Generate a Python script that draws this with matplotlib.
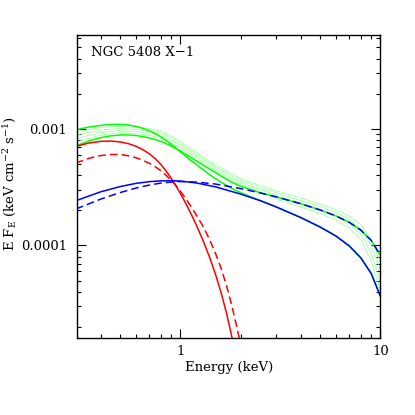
import numpy as np
import matplotlib
matplotlib.use("Agg")
import matplotlib.pyplot as plt
from matplotlib.ticker import FixedLocator, FixedFormatter, LogLocator, NullFormatter

plt.rcParams['font.family'] = ['DejaVu Serif']
plt.rcParams['mathtext.fontset'] = 'dejavuserif'
plt.rcParams['mathtext.default'] = 'regular'

# === Model components, E F_E in units of 1e-4 keV cm^-2 s^-1 ===
# Comptonised component (blue)
e_blue = [0.3, 0.4, 0.5, 0.6, 0.7, 0.8, 0.9, 1.0, 1.2, 1.5, 2.0, 2.5, 3.0, 4.0, 5.0, 6.0, 7.0, 8.0, 9.0, 10.0]
blue_solid = [2.415, 2.884, 3.196, 3.405, 3.521, 3.577, 3.591, 3.563, 3.432, 3.177,
              2.757, 2.425, 2.146, 1.734, 1.438, 1.204, 0.9882, 0.7799, 0.5744, 0.3684]
blue_dash = [2.051, 2.497, 2.839, 3.104, 3.293, 3.425, 3.494, 3.528, 3.494, 3.358,
             3.073, 2.823, 2.614, 2.277, 2.015, 1.790, 1.577, 1.350, 1.104, 0.8258]

# Disc component (red)
e_red = [0.3, 0.35, 0.4, 0.45, 0.5, 0.55, 0.6, 0.65, 0.7, 0.75, 0.8, 0.85, 0.9, 0.95,
         1.0, 1.05, 1.1, 1.15, 1.2, 1.3, 1.4, 1.5, 1.6, 1.7, 1.8, 1.9, 2.0]
red_solid = [7.065, 7.557, 7.798, 7.845, 7.706, 7.453, 7.079, 6.608, 6.093, 5.533,
             4.935, 4.323, 3.765, 3.247, 2.784, 2.391, 2.047, 1.758, 1.504, 1.095,
             0.7923, 0.5622, 0.3917, 0.2634, 0.1707, 0.1106, 0.07]
red_dash = [5.083, 5.588, 5.893, 6.022, 6.010, 5.870, 5.643, 5.359, 5.053, 4.716,
            4.357, 3.979, 3.613, 3.254, 2.913, 2.603, 2.312, 2.059, 1.826, 1.452,
            1.123, 0.8522, 0.6339, 0.4533, 0.3147, 0.2121, 0.1429]

# Best-fit total models (bright green)
e_tot = [0.3, 0.35, 0.4, 0.45, 0.5, 0.55, 0.6, 0.65, 0.7, 0.75, 0.8, 0.85, 0.9, 0.95,
         1.0, 1.1, 1.2, 1.3, 1.4, 1.5, 1.6, 1.8, 2.0, 2.5, 3.0, 4.0, 5.0, 6.0, 7.0, 8.0, 9.0, 10.0]
tot_a = [9.8, 10.35, 10.68, 10.90, 10.90, 10.76, 10.48, 10.08, 9.61, 9.09, 8.51, 7.91,
         7.36, 6.83, 6.35, 5.55, 4.94, 4.45, 4.05, 3.74, 3.48, 3.09, 2.83, 2.43,
         2.146, 1.734, 1.438, 1.204, 0.9882, 0.7799, 0.5744, 0.3684]
tot_b = [7.13, 7.88, 8.39, 8.70, 8.85, 8.85, 8.75, 8.56, 8.35, 8.08, 7.78, 7.44,
         7.11, 6.76, 6.44, 5.83, 5.32, 4.89, 4.51, 4.21, 3.93, 3.49, 3.22, 2.83,
         2.614, 2.277, 2.015, 1.790, 1.577, 1.350, 1.104, 0.8258]

# Other acceptable fits (light green)
e_alt = [0.3, 0.4, 0.5, 0.6, 0.7, 0.8, 0.9, 1.0, 1.2, 1.5, 2.0, 2.5, 3.0, 4.0, 5.0, 6.0, 7.0, 8.0, 9.0, 10.0]
alt_1 = [9.370, 10.24, 10.49, 10.24, 10.04, 9.556, 8.658, 7.770, 6.313, 4.888,
         3.743, 3.260, 2.953, 2.548, 2.263, 2.031, 1.786, 1.495, 1.123, 0.7250]
alt_2 = [8.831, 9.747, 10.04, 9.843, 9.613, 9.132, 8.274, 7.468, 6.071, 4.697,
         3.598, 3.134, 2.839, 2.425, 2.154, 1.914, 1.667, 1.369, 0.9882, 0.6152]
alt_3 = [8.242, 9.278, 9.651, 9.463, 9.186, 8.710, 7.923, 7.179, 5.836, 4.515,
         3.459, 3.013, 2.703, 2.309, 2.031, 1.786, 1.540, 1.240, 0.8608, 0.4886]
alt_4 = [7.692, 8.831, 9.241, 9.096, 8.779, 8.324, 7.542, 6.874, 5.610, 4.340,
         3.326, 2.868, 2.523, 2.133, 1.877, 1.651, 1.410, 1.112, 0.7351, 0.4147]

scale = 1e-4
fs = 9.5

fig = plt.figure(figsize=(4.15, 4.15), dpi=100)
ax = fig.add_axes([0.1855, 0.1848, 0.731, 0.7316])

for alt in [alt_1, alt_2, alt_3, alt_4]:
    ax.plot(e_alt, np.array(alt) * scale, color="#a0ffa0", lw=0.6)
ax.plot(e_tot, np.array(tot_a) * scale, color="#00ff00", lw=1.1)
ax.plot(e_tot, np.array(tot_b) * scale, color="#00ff00", lw=1.1)
ax.plot(e_red, np.array(red_solid) * scale, color="#ff0000", lw=1.1)
ax.plot(e_red, np.array(red_dash) * scale, color="#ff0000", lw=1.1, dashes=(5, 2.7))
ax.plot(e_blue, np.array(blue_solid) * scale, color="#0000ff", lw=1.1)
ax.plot(e_blue, np.array(blue_dash) * scale, color="#0000ff", lw=1.1, dashes=(5, 2.7))

ax.set_xscale("log")
ax.set_yscale("log")
ax.set_xlim(0.304, 10)
ax.set_ylim(1.6e-5, 6.4e-3)

ax.xaxis.set_major_locator(FixedLocator([1, 10]))
ax.xaxis.set_major_formatter(FixedFormatter(["1", "10"]))
ax.xaxis.set_minor_locator(LogLocator(base=10, subs=np.arange(2, 10)))
ax.xaxis.set_minor_formatter(NullFormatter())
ax.yaxis.set_major_locator(FixedLocator([1e-4, 1e-3]))
ax.yaxis.set_major_formatter(FixedFormatter(["0.0001", "0.001"]))
ax.yaxis.set_minor_locator(LogLocator(base=10, subs=np.arange(2, 10)))
ax.yaxis.set_minor_formatter(NullFormatter())

ax.tick_params(which="both", direction="in", top=True, right=True, color="black", width=0.8,
               labelsize=fs)
ax.tick_params(which="major", length=6.2)
ax.tick_params(which="minor", length=3.2)
ax.tick_params(axis="y", which="major", pad=7)
ax.tick_params(axis="x", which="major", pad=5)
for sp in ax.spines.values():
    sp.set_linewidth(1.0)

ax.set_xlabel("Energy (keV)", fontsize=fs)
ax.xaxis.set_label_coords(0.5, -0.075)
ax.set_ylabel(r"E F$_\mathrm{E}$ (keV cm$^{-2}$ s$^{-1}$)", fontsize=fs)
ax.yaxis.set_label_coords(-0.19, 0.51)

ax.text(0.046, 0.94, "NGC 5408 X\u22121", transform=ax.transAxes, fontsize=fs,
        ha="left", va="center")

fig.savefig("out.png", dpi=100)
